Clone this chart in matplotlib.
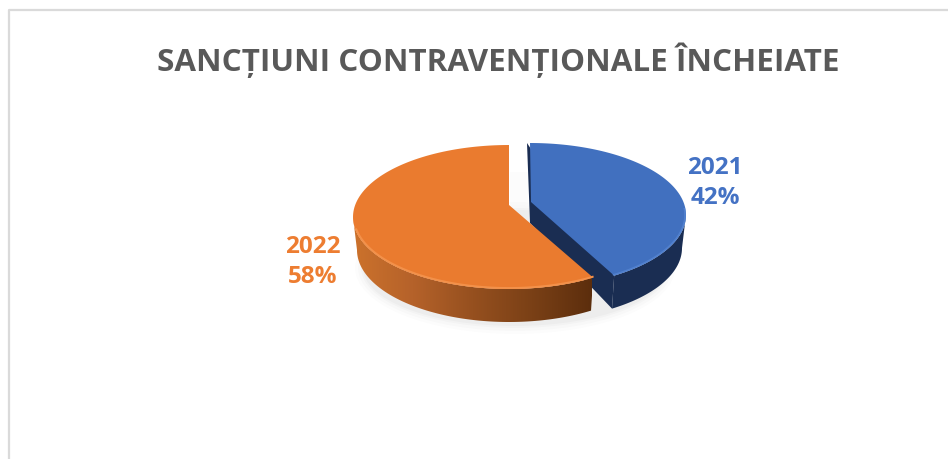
import matplotlib
matplotlib.use('Agg')
import matplotlib.pyplot as plt
from matplotlib.colors import LinearSegmentedColormap
from matplotlib.patches import Ellipse, Polygon
import numpy as np

# Data
title = 'SANCȚIUNI CONTRAVENȚIONALE ÎNCHEIATE'
years = ['2021', '2022']
shares = [42, 58]


def warp(t):
    # front of the tilted pie is drawn a little wider than the back
    return t - 8 * np.sin(np.radians(t))


def rim(cx, cy, rx, ry, t0, t1):
    t = np.radians(np.linspace(t0, t1, 120))
    return np.column_stack([cx + rx * np.sin(t), cy - ry * np.cos(t)])


def main():
    fig = plt.figure(figsize=(9.48, 4.59), dpi=100)
    ax = fig.add_axes([0, 0, 1, 1])
    ax.set_xlim(0, 948)
    ax.set_ylim(459, 0)
    ax.axis('off')

    # Chart frame, cut off by the screenshot on the right and bottom
    ax.plot([9, 9, 948], [459, 10, 10], color='#DADADA', lw=1.6)

    ax.text(498, 60, title, ha='center', va='center', fontsize=22.6,
            fontweight='bold', color='#595959', family=['Open Sans', 'DejaVu Sans'])

    blue_sweep = 360 * shares[0] / sum(shares)
    orange_sweep = 360 * shares[1] / sum(shares)
    blue_end = warp(blue_sweep)
    orange_end = -warp(orange_sweep - 360) - 360

    # Soft shadow under the pie
    for grow, alpha in zip([10, 7, 4, 2], [0.012, 0.015, 0.02, 0.025]):
        ax.add_patch(Ellipse((515, 268), 2 * (150 + grow), 2 * (56 + grow),
                             color='black', alpha=alpha, lw=0))
    ax.add_patch(Polygon([(510, 172), (528, 172), (528, 205), (510, 205)],
                         color='#000000', alpha=0.012, lw=0))

    # Blue slice (exploded to the right)
    bx, by = 530, 215
    b_apex = (531, 202)
    b_top = rim(bx, by, 156, 72, 0, blue_end)
    b_bottom = rim(bx, by + 33, 152, 72, 0, blue_end)
    wall = rim(bx, by, 156, 72, 90, blue_end)
    wall_low = rim(bx, by + 33, 152, 72, 90, blue_end)
    ax.add_patch(Polygon(np.vstack([wall, wall_low[::-1]]), color='#1A2D52', lw=0))
    ax.add_patch(Polygon([(527, 143), b_top[-1], b_bottom[-1], (530, 223)],
                         color='#1A2D52', lw=0))
    ax.add_patch(Polygon(np.vstack([[b_apex], b_top]), color='#4170BF', lw=0))
    arc = rim(bx, by, 155, 71, 85, blue_end)
    ax.plot(arc[:, 0], arc[:, 1], color='#5585D2', lw=1.2, alpha=0.8)

    # Orange slice
    ox, oy = 509, 217
    o_apex = (509, 205)
    o_top = rim(ox, oy, 156, 72, 0, orange_end)
    wall = rim(ox, oy, 156, 72, -90, orange_end)
    wall_low = rim(ox, oy + 33, 152, 72, -90, orange_end)
    wall_poly = Polygon(np.vstack([wall, wall_low[::-1]]), color='none', lw=0)
    ax.add_patch(wall_poly)
    side_cmap = LinearSegmentedColormap.from_list(
        'side', ['#CC722C', '#B5622A', '#96501F', '#7A4016', '#5C2E0D'])
    grad = ax.imshow(np.linspace(0, 1, 256).reshape(1, -1), cmap=side_cmap,
                     extent=[353, 592, 325, 210], aspect='auto', zorder=2)
    grad.set_clip_path(wall_poly)
    ax.set_xlim(0, 948)
    ax.set_ylim(459, 0)
    ax.add_patch(Polygon(np.vstack([[o_apex], o_top]), color='#EA7B2F', lw=0, zorder=3))
    arc = rim(ox, oy, 155, 71, -100, orange_end)
    ax.plot(arc[:, 0], arc[:, 1], color='#F3914A', lw=1.4, zorder=3)

    # Data labels
    ax.text(715, 183, f'{years[0]}\n{shares[0]}%', ha='center', va='center',
            fontsize=17.5, fontweight='bold', color='#4472C4', linespacing=1.36,
            family=['Open Sans', 'DejaVu Sans'])
    ax.text(313, 262, f'{years[1]}\n{shares[1]}%', ha='center', va='center',
            fontsize=17.5, fontweight='bold', color='#ED7D31', linespacing=1.36,
            family=['Open Sans', 'DejaVu Sans'])

    fig.savefig('out.png', dpi=100, facecolor='white')


if __name__ == '__main__':
    main()
